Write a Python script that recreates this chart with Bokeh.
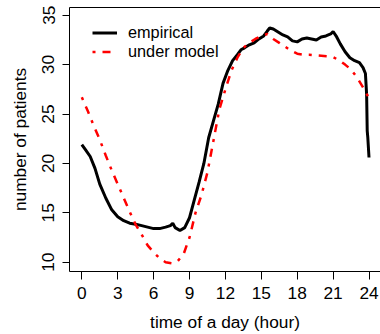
from bokeh.plotting import figure
from bokeh.models import Range1d, FixedTicker, LinearAxis, Legend, LegendItem
from bokeh.embed import file_html
from bokeh.resources import INLINE

# ---- data ----
emp_hour = [0, 0.3, 0.7, 1.1, 1.5, 2.0, 2.5, 3.0, 3.5, 4.0, 4.5, 5.0, 5.5, 6.0,
            6.5, 7.0, 7.4, 7.6, 7.8, 8.2, 8.6, 9.0, 9.4, 9.8, 10.2, 10.6, 11.0,
            11.4, 11.8, 12.2, 12.6, 13.0, 13.3, 13.6, 14.0, 14.4, 14.8, 15.2,
            15.5, 15.7, 16.0, 16.4, 16.8, 17.2, 17.6, 18.0, 18.4, 18.8, 19.2,
            19.6, 20.0, 20.4, 20.8, 21.0, 21.3, 21.6, 22.0, 22.4, 22.8, 23.2,
            23.5, 23.7, 23.8, 23.85, 23.9, 24.0]
emp_value = [21.9, 21.4, 20.7, 19.5, 17.9, 16.5, 15.3, 14.6, 14.2, 13.95, 13.85,
             13.7, 13.55, 13.4, 13.4, 13.55, 13.7, 13.95, 13.5, 13.2, 13.5, 14.5,
             16.3, 18.1, 20.0, 22.6, 24.3, 26.0, 28.1, 29.4, 30.4, 31.0, 31.5,
             31.7, 32.0, 32.2, 32.6, 32.9, 33.4, 33.7, 33.6, 33.3, 33.0, 32.8,
             32.4, 32.3, 32.6, 32.7, 32.6, 32.5, 32.8, 32.9, 33.1, 33.35, 32.8,
             32.1, 31.3, 30.7, 30.4, 30.2, 29.7, 29.1, 27.0, 23.3, 22.6, 20.6]

mod_hour = [0, 0.5, 1.0, 1.5, 2.0, 2.5, 3.0, 3.5, 4.0, 4.5, 5.0, 5.5, 6.0, 6.5,
            7.0, 7.5, 8.0, 8.5, 9.0, 9.5, 10.0, 10.5, 11.0, 11.5, 12.0, 12.5,
            13.0, 13.5, 14.0, 14.5, 15.0, 15.5, 16.0, 16.5, 17.0, 17.5, 18.0,
            18.5, 19.0, 19.5, 20.0, 20.5, 21.0, 21.5, 22.0, 22.5, 23.0, 23.5, 24.0]
mod_value = [26.7, 25.3, 23.8, 22.4, 20.8, 19.3, 17.9, 16.5, 15.1, 13.8, 12.8,
             11.7, 11.0, 10.4, 10.0, 9.9, 10.1, 10.8, 12.5, 15.0, 16.8, 19.1,
             22.3, 25.5, 27.5, 29.4, 30.7, 31.7, 32.2, 32.6, 32.9, 33.1, 32.6,
             32.2, 31.8, 31.4, 31.1, 31.0, 31.0, 30.95, 30.9, 30.85, 30.75,
             30.45, 30.0, 29.5, 28.7, 27.7, 26.6]

x_ticks = [0, 3, 6, 9, 12, 15, 18, 21, 24]
y_ticks = [10, 15, 20, 25, 30, 35]

FONT = "Liberation Sans"
FS = "17.3px"
LFS = "16.3px"

p = figure(width=380, height=334, x_range=Range1d(-1.03, 24.96),
           y_range=Range1d(9.06, 35.78), output_backend="svg",
           toolbar_location=None, min_border_left=69, min_border_right=0,
           min_border_top=7, min_border_bottom=63)
p.outline_line_color = None
p.xgrid.visible = False
p.ygrid.visible = False
p.background_fill_color = "white"
p.border_fill_color = "white"

for ax in (p.xaxis[0], p.yaxis[0]):
    ax.axis_line_color = "black"
    ax.axis_line_width = 1
    ax.major_tick_line_color = "black"
    ax.major_tick_in = 0
    ax.major_tick_out = 7
    ax.minor_tick_line_color = None
    ax.major_label_text_font = FONT
    ax.major_label_text_font_size = FS
    ax.major_label_text_color = "black"
    ax.axis_label_text_font = FONT
    ax.axis_label_text_font_size = FS
    ax.axis_label_text_font_style = "normal"
    ax.axis_label_text_color = "black"

p.xaxis[0].ticker = FixedTicker(ticks=x_ticks)
p.yaxis[0].ticker = FixedTicker(ticks=y_ticks)
p.xaxis[0].major_tick_out = 8
p.xaxis[0].axis_label = "time of a day (hour)"
p.yaxis[0].axis_label = "number of patients"
p.yaxis[0].major_label_orientation = "vertical"
p.xaxis[0].major_label_standoff = 7
p.yaxis[0].major_label_standoff = 8
p.xaxis[0].axis_label_standoff = 10
p.yaxis[0].axis_label_standoff = 10

top = LinearAxis(ticker=FixedTicker(ticks=[]), axis_line_color="black",
                 major_tick_line_color=None, minor_tick_line_color=None,
                 major_label_text_font_size="0px")
p.add_layout(top, "above")

r_emp = p.line(emp_hour, emp_value, line_color="black", line_width=3)
r_mod = p.line(mod_hour, mod_value, line_color="red", line_width=2.5,
               line_dash="3 7 8 7")

common = dict(border_line_color=None, background_fill_alpha=0, padding=0,
              margin=0, spacing=0, glyph_width=25, glyph_height=15,
              label_height=15, label_standoff=11, label_text_font=FONT,
              label_text_font_size=LFS, label_text_color="black")
leg1 = Legend(items=[LegendItem(label="empirical", renderers=[r_emp])],
              location=(23, 229), **common)
leg2 = Legend(items=[LegendItem(label="under model", renderers=[r_mod])],
              location=(23, 210), **common)
p.add_layout(leg1, "center")
p.add_layout(leg2, "center")

open("out.html", "w").write(file_html(p, INLINE))
